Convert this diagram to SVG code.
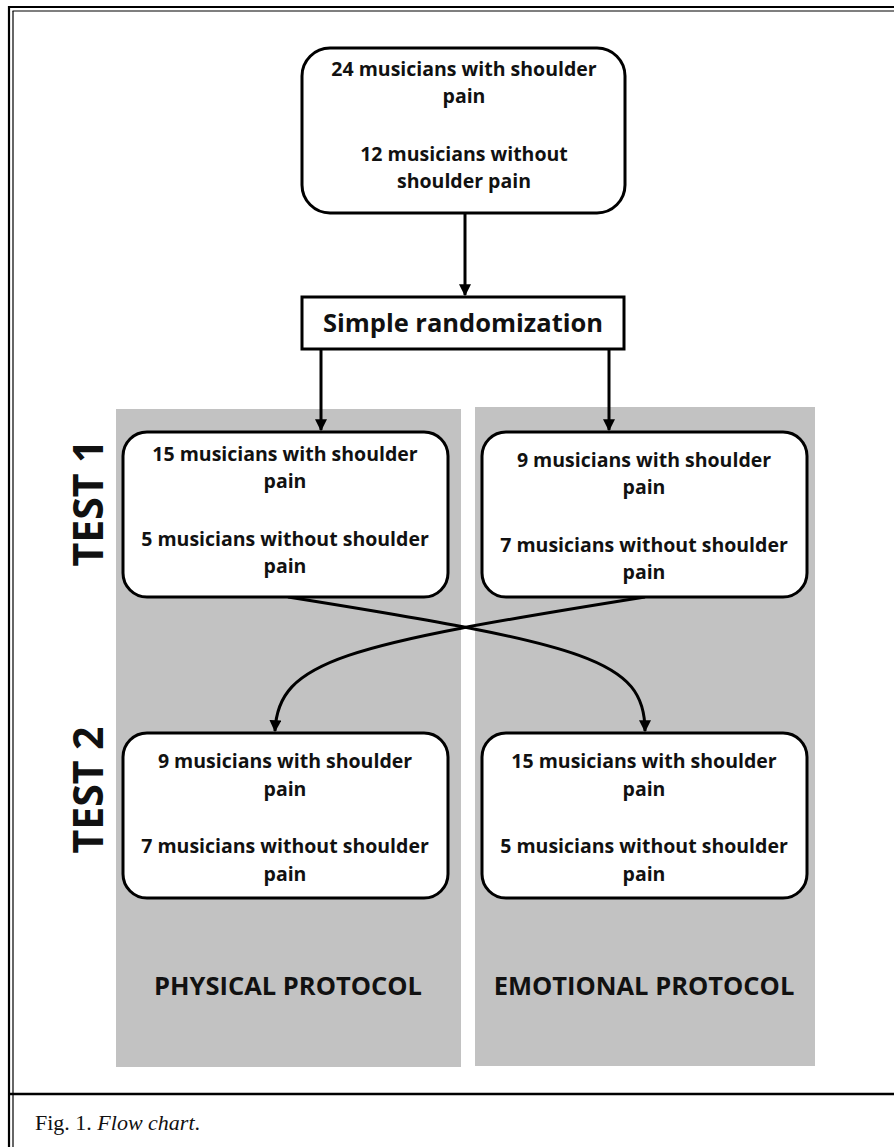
<svg xmlns="http://www.w3.org/2000/svg" width="894" height="1147" viewBox="0 0 894 1147">
<style>
.box{fill:#fff;stroke:#000;stroke-width:3}
.panel{fill:#c2c2c2}
.t{font-family:"Open Sans","Liberation Sans",sans-serif;font-weight:700;font-size:19.5px;fill:#111;text-anchor:middle}
.big{font-family:"Open Sans","Liberation Sans",sans-serif;font-weight:700;font-size:25.5px;fill:#111;text-anchor:middle}
.test{font-family:"Open Sans","Liberation Sans",sans-serif;font-weight:700;font-size:41px;fill:#111;text-anchor:middle}
.conn{fill:none;stroke:#000;stroke-width:3}
.frame{stroke:#000;fill:none}
</style>
<defs>
<marker id="ah" viewBox="0 0 10 10" refX="9" refY="5" markerWidth="4" markerHeight="4" orient="auto" markerUnits="strokeWidth">
<path d="M0,0 L10,5 L0,10 z" fill="#000"/>
</marker>
</defs>
<rect x="0" y="0" width="894" height="1147" fill="#fff"/>
<g id="frame">
<line class="frame" x1="8" y1="7" x2="894" y2="7" stroke-width="2.2"/>
<line class="frame" x1="12.5" y1="11" x2="894" y2="11" stroke-width="1.2"/>
<line class="frame" x1="9" y1="6" x2="9" y2="1147" stroke-width="2.2"/>
<line class="frame" x1="13" y1="11" x2="13" y2="1147" stroke-width="1.2"/>
<line class="frame" x1="9" y1="1094" x2="894" y2="1094" stroke-width="2.6"/>
</g>
<g id="panels">
<rect class="panel" x="116" y="409" width="345" height="658"/>
<rect class="panel" x="475" y="407" width="340" height="659"/>
</g>
<g id="labels">
<text class="test" transform="translate(103,503) rotate(-90)">TEST 1</text>
<text class="test" transform="translate(103,790) rotate(-90)">TEST 2</text>
<text class="big" x="288" y="995">PHYSICAL PROTOCOL</text>
<text class="big" x="644" y="995">EMOTIONAL PROTOCOL</text>
</g>
<g id="connectors">
<line class="conn" x1="465" y1="213" x2="465" y2="295" marker-end="url(#ah)"/>
<line class="conn" x1="321" y1="349" x2="321" y2="430" marker-end="url(#ah)"/>
<line class="conn" x1="609" y1="349" x2="609" y2="430" marker-end="url(#ah)"/>
<path class="conn" d="M288,597 C588,645 645,660 645,731" marker-end="url(#ah)"/>
<path class="conn" d="M645,597 C345,645 278,660 275,731" marker-end="url(#ah)"/>
</g>
<g id="start">
<rect class="box" x="302" y="48" width="323" height="165" rx="28"/>
<text class="t" x="464" y="76">24 musicians with shoulder</text>
<text class="t" x="464" y="103">pain</text>
<text class="t" x="464" y="161">12 musicians without</text>
<text class="t" x="464" y="188">shoulder pain</text>
</g>
<g id="randomization">
<rect class="box" x="302" y="297" width="322" height="52"/>
<text class="big" x="463" y="332">Simple randomization</text>
</g>
<g id="test1-physical">
<rect class="box" x="123" y="432" width="325" height="165" rx="24"/>
<text class="t" x="285" y="461">15 musicians with shoulder</text>
<text class="t" x="285" y="488">pain</text>
<text class="t" x="285" y="546">5 musicians without shoulder</text>
<text class="t" x="285" y="573">pain</text>
</g>
<g id="test1-emotional">
<rect class="box" x="482" y="432" width="325" height="165" rx="24"/>
<text class="t" x="644" y="467">9 musicians with shoulder</text>
<text class="t" x="644" y="494">pain</text>
<text class="t" x="644" y="552">7 musicians without shoulder</text>
<text class="t" x="644" y="579">pain</text>
</g>
<g id="test2-physical">
<rect class="box" x="123" y="733" width="325" height="165" rx="24"/>
<text class="t" x="285" y="768">9 musicians with shoulder</text>
<text class="t" x="285" y="796">pain</text>
<text class="t" x="285" y="853">7 musicians without shoulder</text>
<text class="t" x="285" y="881">pain</text>
</g>
<g id="test2-emotional">
<rect class="box" x="482" y="733" width="325" height="165" rx="24"/>
<text class="t" x="644" y="768">15 musicians with shoulder</text>
<text class="t" x="644" y="796">pain</text>
<text class="t" x="644" y="853">5 musicians without shoulder</text>
<text class="t" x="644" y="881">pain</text>
</g>
<g id="caption">
<text x="35" y="1130" font-family="Liberation Serif, serif" font-size="22" fill="#111">Fig. 1. <tspan font-style="italic">Flow chart</tspan>.</text>
</g>
</svg>
